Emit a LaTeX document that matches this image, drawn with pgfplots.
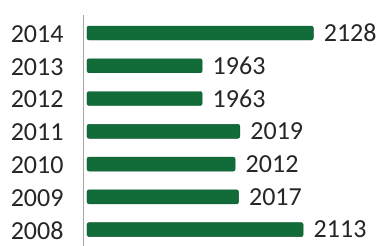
\documentclass[border=0pt]{standalone}
\usepackage{pgfplots}
\pgfplotsset{compat=1.18}
\usepackage{fontspec}
\setmainfont{Carlito}
\definecolor{barg}{RGB}{18,108,58}
\begin{document}
\begin{tikzpicture}
\begin{axis}[
  at={(0,0)}, anchor=south west,
  scale only axis,
  width=291bp, height=231bp,
  xmin=1792, xmax=2224,
  ymin=2007.5, ymax=2014.55,
  xbar, bar width=14bp,
  axis y line=left,
  axis x line=none,
  y axis line style={-, gray!70, line width=0.8pt, xshift=-4bp},
  ytick={2008,...,2014},
  yticklabels={2008,2009,2010,2011,2012,2013,2014},
  major tick length=0pt,
  yticklabel style={font=\fontsize{26bp}{30bp}\selectfont, color=black!85, xshift=-20bp, yshift=-1bp},
  nodes near coords,
  nodes near coords style={font=\fontsize{26bp}{30bp}\selectfont, color=black!85, xshift=7bp},
  point meta=x,
  /pgf/number format/.cd, 1000 sep={}, assume math mode=true,
]
\addplot[fill=barg, draw=barg!80!black, rounded corners=2bp] coordinates {
(2113,2008) (2017,2009) (2012,2010) (2019,2011) (1963,2012) (1963,2013) (2128,2014)};
\end{axis}
\pgfresetboundingbox
\path (-87bp,0) rectangle (291bp,246bp);
\end{tikzpicture}
\end{document}
